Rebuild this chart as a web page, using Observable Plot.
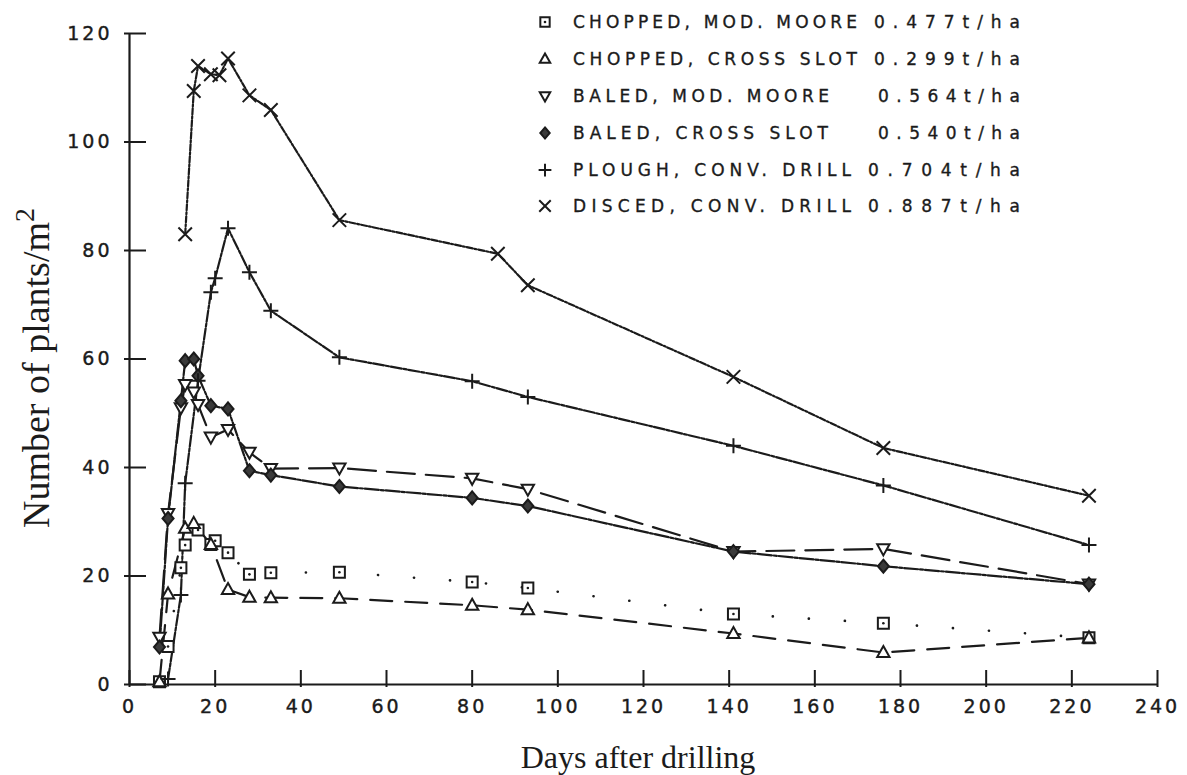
<!DOCTYPE html>
<html><head><meta charset="utf-8">
<script src="https://cdn.jsdelivr.net/npm/d3@7"></script>
<script src="https://cdn.jsdelivr.net/npm/@observablehq/plot@0.6"></script>
<style>body{margin:0;background:#fff}</style>
</head><body><div id="chart"></div>
<script>
// ---- data (day, plants per m²) ----
const seriesNames = [
  "CHOPPED, MOD. MOORE", "CHOPPED, CROSS SLOT", "BALED, MOD. MOORE",
  "BALED, CROSS SLOT", "PLOUGH, CONV. DRILL", "DISCED, CONV. DRILL"
];
const yieldLabels = ["0.477t/ha", "0.299t/ha", "0.564t/ha", "0.540t/ha", "0.704t/ha", "0.887t/ha"];
const choppedMoore = [[7,0.5],[9,7],[12,21.5],[13,25.7],[16,28.5],[19,25.8],[20,26.5],[23,24.3],[28,20.3],[33,20.6],[49,20.7],[80,18.9],[93,17.8],[141,13],[176,11.3],[224,8.6]];
const choppedCross = [[7,0.5],[9,16.7],[13,28.8],[15,29.7],[19,25.8],[23,17.5],[28,16.1],[33,16],[49,15.9],[80,14.6],[93,13.8],[141,9.4],[176,5.9],[224,8.6]];
const baledMoore = [[7,8.7],[9,31.5],[12,51],[13,55.3],[15,53.9],[16,51.6],[19,45.6],[23,47],[28,42.8],[33,39.8],[49,39.9],[80,38],[93,36],[141,24.5],[176,25],[224,18.5]];
const baledCross = [[7,6.9],[9,30.6],[12,52.3],[13,59.7],[15,60],[16,56.9],[19,51.4],[23,50.8],[28,39.4],[33,38.6],[49,36.5],[80,34.4],[93,32.9],[141,24.5],[176,21.8],[224,18.5]];
const plough = [[9,1],[12,16.5],[13,37.1],[16,56],[19,72.3],[20,74.9],[23,84.1],[28,76],[33,68.9],[49,60.3],[80,55.9],[93,53],[141,44],[176,36.7],[224,25.7]];
const disced = [[13,83],[15,109.4],[16,114],[19,112.5],[21,112.3],[23,115.4],[28,108.6],[33,105.9],[49,85.6],[86,79.4],[93,73.6],[141,56.7],[176,43.6],[224,34.8]];
const xTickValues = [0,20,40,60,80,100,120,140,160,180,200,220,240];
const yTickValues = [0,20,40,60,80,100,120];

const allSeries = [choppedMoore, choppedCross, baledMoore, baledCross, plough, disced];
const rows = allSeries.flatMap((s, i) => s.map(([day, value]) => ({series: seriesNames[i], day, value})));

// ---- symbols ----
const rad = (size) => Math.sqrt(size / Math.PI);
const squareSym = {draw(c, size) { const r = rad(size); c.moveTo(-r,-r); c.lineTo(r,-r); c.lineTo(r,r); c.lineTo(-r,r); c.closePath(); }};
const triUp = {draw(c, size) { const r = rad(size); c.moveTo(0,-r); c.lineTo(r*0.95, r*0.7); c.lineTo(-r*0.95, r*0.7); c.closePath(); }};
const triDown = {draw(c, size) { const r = rad(size); c.moveTo(0,r); c.lineTo(r*0.95,-r*0.7); c.lineTo(-r*0.95,-r*0.7); c.closePath(); }};
const diamondSym = {draw(c, size) { const r = rad(size); c.moveTo(0,-r); c.lineTo(r*0.85,0); c.lineTo(0,r); c.lineTo(-r*0.85,0); c.closePath(); }};
const plusSym = {draw(c, size) { const r = rad(size); c.moveTo(-r,0); c.lineTo(r,0); c.moveTo(0,-r); c.lineTo(0,r); }};
const timesSym = {draw(c, size) { const r = rad(size)*0.75; c.moveTo(-r,-r); c.lineTo(r,r); c.moveTo(r,-r); c.lineTo(-r,r); }};

const ink = "#1b1b1b";
const styles = [
  {dash: "0.1,36", width: 2.6, sym: squareSym, r: 5.5, fill: "white"},
  {dash: "22,13", width: 2.2, sym: triUp, r: 6.5, fill: "white"},
  {dash: "28,11", width: 2.2, sym: triDown, r: 6.5, fill: "white"},
  {dash: "14,2,3,2", width: 2.2, sym: diamondSym, r: 6.5, fill: "#3a3a3a"},
  {dash: "11,2,3,2", width: 2.2, sym: plusSym, r: 7.5, fill: "none"},
  {dash: "6,2,2,2", width: 2.2, sym: timesSym, r: 9, fill: "none"}
];

const marks = [];
seriesNames.forEach((name, i) => {
  const st = styles[i];
  marks.push(Plot.line(rows.filter(d => d.series === name), {
    x: "day", y: "value", stroke: ink, strokeWidth: st.width,
    strokeDasharray: st.dash, strokeLinecap: "round"
  }));
});
seriesNames.forEach((name, i) => {
  const st = styles[i];
  const data = rows.filter(d => d.series === name);
  marks.push(Plot.dot(data, {x: "day", y: "value", symbol: st.sym, r: st.r,
    stroke: ink, strokeWidth: 2, fill: st.fill}));
  if (i === 0) marks.push(Plot.dot(data, {x: "day", y: "value", r: 1.3, fill: ink}));
});

const chart = Plot.plot({
  width: 1187, height: 775,
  marginLeft: 129, marginRight: 30, marginTop: 33, marginBottom: 91,
  style: {fontFamily: "DejaVu Sans", fontSize: "19px", letterSpacing: "3px", background: "white", color: ink},
  x: {domain: [0, 240]},
  y: {domain: [0, 120]},
  marks: [
    Plot.axisX({ticks: xTickValues, tickSize: 17, dy: -14, tickPadding: 12, label: null, strokeWidth: 2}),
    Plot.axisY({ticks: yTickValues, tickSize: 22, dx: 17, tickPadding: 12, label: null, strokeWidth: 2}),
    Plot.ruleX([0], {stroke: ink, strokeWidth: 2.2}),
    Plot.ruleY([0], {stroke: ink, strokeWidth: 2.2}),
    ...marks
  ]
});
document.getElementById("chart").append(chart);

// ---- axis titles & legend ----
const svg = d3.select(chart);
svg.selectAll("g[aria-label$='axis tick label'] text").attr("stroke", ink).attr("stroke-width", 0.4);
svg.append("text").attr("x", 638).attr("y", 768)
  .attr("text-anchor", "middle").style("font-family", "'Liberation Serif', serif")
  .style("font-size", "32px").style("letter-spacing", "0").attr("fill", ink)
  .text("Days after drilling");
const yl = svg.append("text").attr("transform", "translate(49,368) rotate(-90)")
  .attr("text-anchor", "middle").style("font-family", "'Liberation Serif', serif")
  .style("font-size", "38px").style("letter-spacing", "0").attr("fill", ink);
yl.append("tspan").text("Number of plants/m");
yl.append("tspan").attr("baseline-shift", "super").style("font-size", "28px").text("2");

const legendY = [22, 59, 96, 133, 170, 206];
const labelWidth = [284, 284, 256, 255, 278, 278];
const valueX = [874, 874, 878, 878, 868, 868];
const lg = svg.append("g");
seriesNames.forEach((name, i) => {
  const st = styles[i];
  const p = d3.symbol().type(st.sym).size(Math.PI * (st.r * 0.85) ** 2)();
  lg.append("path").attr("d", p).attr("transform", `translate(545,${legendY[i]})`)
    .attr("stroke", ink).attr("stroke-width", 2).attr("fill", st.fill);
  if (i === 0) lg.append("circle").attr("cx", 545).attr("cy", legendY[i]).attr("r", 1.3).attr("fill", ink);
  lg.append("text").attr("x", 573).attr("y", legendY[i]).attr("dy", "0.36em")
    .attr("text-anchor", "start")
    .attr("textLength", labelWidth[i]).attr("lengthAdjust", "spacing")
    .style("font-family", "'DejaVu Sans'").style("font-size", "17px").style("letter-spacing", "0")
    .attr("fill", ink).attr("stroke", ink).attr("stroke-width", 0.35).text(name);
  lg.append("text").attr("x", valueX[i]).attr("y", legendY[i]).attr("dy", "0.36em")
    .attr("text-anchor", "start")
    .attr("textLength", 1020 - valueX[i]).attr("lengthAdjust", "spacing")
    .style("font-family", "'DejaVu Sans'").style("font-size", "17px").style("letter-spacing", "0")
    .attr("fill", ink).attr("stroke", ink).attr("stroke-width", 0.35).text(yieldLabels[i]);
});
</script>
</body></html>
